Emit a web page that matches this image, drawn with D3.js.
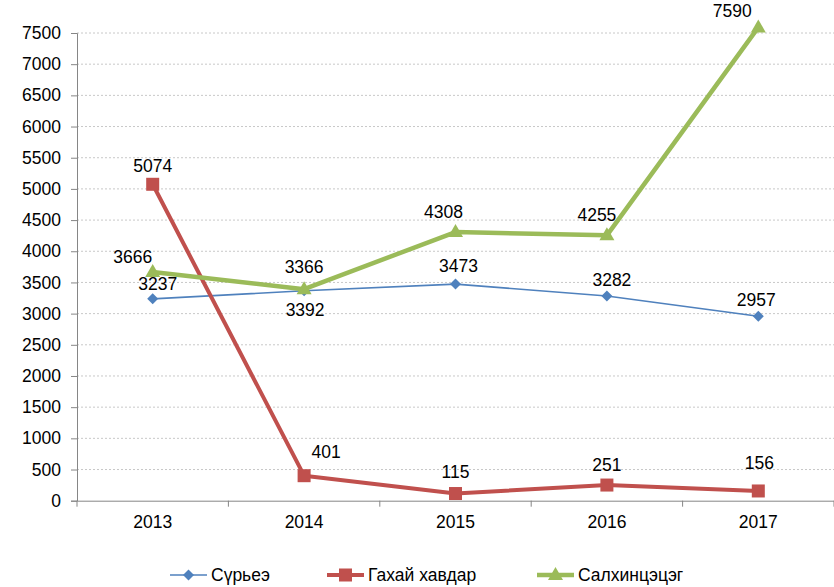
<!DOCTYPE html>
<html><head><meta charset="utf-8">
<script src="https://cdn.jsdelivr.net/npm/d3@7"></script>
<style>body{margin:0;background:#fff}text{font-family:"Liberation Sans",Arial,sans-serif}</style>
</head><body><svg id="c" width="834" height="587"></svg>
<script>
const years = ["2013","2014","2015","2016","2017"];
const seriesNames = ["Сүрьеэ","Гахай хавдар","Салхинцэцэг"];
const tuberculosis = [3237,3366,3473,3282,2957];
const swineFever = [5074,401,115,251,156];
const chickenpox = [3666,3392,4308,4255,7590];
const yTicks = [0,500,1000,1500,2000,2500,3000,3500,4000,4500,5000,5500,6000,6500,7000,7500];

(function(){
const labelOff = [
  [[5,-15],[0,-24],[3,-18],[5,-16],[-2,-16]],
  [[0,-18],[22,-24],[0,-22],[0,-20],[1,-28]],
  [[-20,-15],[1,21],[-12,-20],[-10,-20],[-26,-16]]
];
const colors = ["#4F81BD","#C0504D","#9BBB59"];
const widths = [1.6,4,4.5];
const FS = 17.5;

const svg = d3.select("#c");
const pLeft=77, pRight=834, pTop=33, pBottom=500.7;
const x = d3.scaleBand().domain(years).range([pLeft,pRight]);
const y = d3.scaleLinear().domain([0,7500]).range([pBottom,pTop]);

svg.append("g").selectAll("line").data(yTicks.filter(d=>d>0)).join("line")
  .attr("x1",pLeft).attr("x2",pRight).attr("y1",d=>y(d)).attr("y2",d=>y(d))
  .attr("stroke","#c8c8c8").attr("stroke-width",1).attr("stroke-dasharray","2,2");

const ya = svg.append("g").attr("transform",`translate(${pLeft},0)`)
  .call(d3.axisLeft(y).tickValues(yTicks).tickSize(6).tickPadding(10).tickFormat(d3.format("d")));
ya.select(".domain").attr("stroke","#868686");
ya.selectAll(".tick line").attr("stroke","#868686");
ya.selectAll("text").attr("font-size",FS).attr("fill","#000").style("font-family","'Liberation Sans',Arial,sans-serif");

const xa = svg.append("g").attr("transform",`translate(0,${pBottom})`)
  .call(d3.axisBottom(x).tickSize(0).tickPadding(15));
xa.select(".domain").attr("stroke","#868686");
xa.selectAll("text").attr("font-size",FS).attr("fill","#000").style("font-family","'Liberation Sans',Arial,sans-serif");
const bounds = years.map(d=>x(d)).concat([pRight]);
svg.append("g").selectAll("line").data(bounds).join("line")
  .attr("x1",d=>d).attr("x2",d=>d).attr("y1",pBottom).attr("y2",pBottom+6)
  .attr("stroke","#868686");

const data = [tuberculosis, swineFever, chickenpox];
const cx = d => x(d)+x.bandwidth()/2;
const line = d3.line().x((v,i)=>cx(years[i])).y(v=>y(v));

function marker(g, k, px, py){
  if(k===0) g.append("path").attr("d","M0,-5.5L5.5,0L0,5.5L-5.5,0Z").attr("transform",`translate(${px},${py})`).attr("fill",colors[0]);
  if(k===1) g.append("rect").attr("x",px-6.5).attr("y",py-6.5).attr("width",13).attr("height",13).attr("fill",colors[1]);
  if(k===2) g.append("path").attr("d","M0,-8L7.5,5L-7.5,5Z").attr("transform",`translate(${px},${py})`).attr("fill",colors[2]);
}

[0,1,2].forEach(k=>{
  const g = svg.append("g");
  g.append("path").datum(data[k]).attr("d",line).attr("fill","none")
    .attr("stroke",colors[k]).attr("stroke-width",widths[k]).attr("stroke-linejoin","round");
  data[k].forEach((v,i)=>marker(g,k,cx(years[i]),y(v)));
});
[0,1,2].forEach(k=>{
  svg.append("g").selectAll("text").data(data[k]).join("text")
    .attr("x",(v,i)=>cx(years[i])+labelOff[k][i][0])
    .attr("y",(v,i)=>y(v)+labelOff[k][i][1])
    .attr("text-anchor","middle").attr("dominant-baseline","central")
    .attr("font-size",FS).attr("fill","#000").text(v=>v);
});

const legX = [170,327,537];
seriesNames.forEach((n,k)=>{
  const g = svg.append("g");
  const ly = 575;
  g.append("line").attr("x1",legX[k]).attr("x2",legX[k]+37).attr("y1",ly).attr("y2",ly)
    .attr("stroke",colors[k]).attr("stroke-width",widths[k]);
  marker(g,k,legX[k]+18.5,ly);
  g.append("text").attr("x",legX[k]+41).attr("y",ly).attr("dominant-baseline","central")
    .attr("font-size",FS).attr("fill","#000").text(n);
});
})();
</script></body></html>
